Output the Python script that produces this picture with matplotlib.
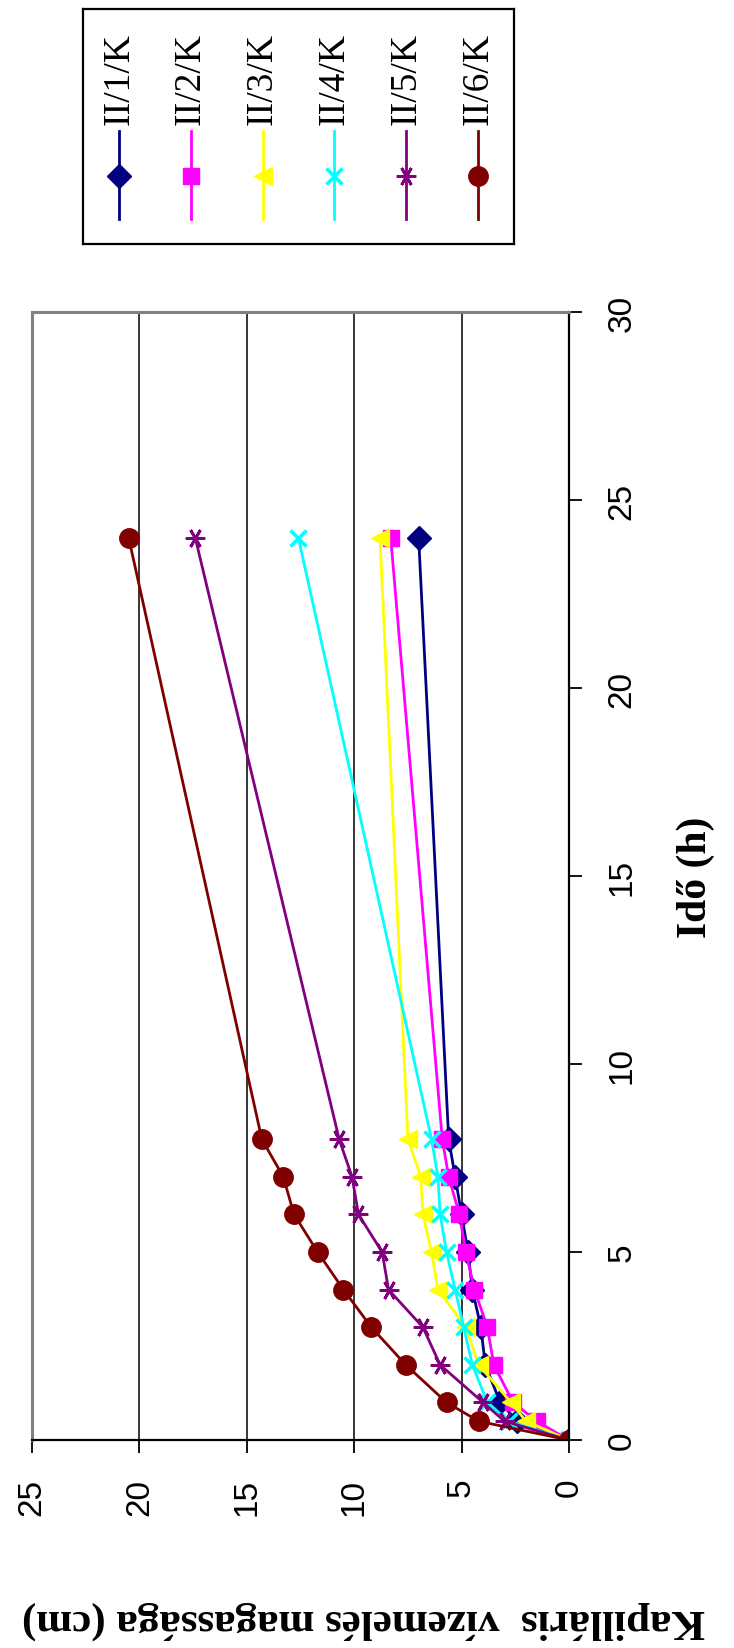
import numpy as np
import matplotlib.pyplot as plt

# capillary rise measurements, time in hours
hours = [0, 0.5, 1, 2, 3, 4, 5, 6, 7, 8, 24]

labels = ["II/1/K", "II/2/K", "II/3/K", "II/4/K", "II/5/K", "II/6/K"]
rise_1 = [0, 2.4, 3.2, 3.9, 4.1, 4.5, 4.7, 5.0, 5.3, 5.6, 7.0]
rise_2 = [0, 1.5, 2.6, 3.5, 3.8, 4.4, 4.8, 5.1, 5.6, 5.9, 8.3]
rise_3 = [0, 2.0, 2.7, 4.2, 4.8, 6.1, 6.4, 6.8, 6.9, 7.5, 8.8]
rise_4 = [0, 2.8, 3.8, 4.5, 4.9, 5.3, 5.7, 6.0, 6.1, 6.4, 12.6]
rise_5 = [0, 3.0, 4.0, 6.0, 6.8, 8.4, 8.7, 9.8, 10.1, 10.7, 17.4]
rise_6 = [0, 4.2, 5.7, 7.6, 9.2, 10.5, 11.7, 12.8, 13.3, 14.3, 20.5]
rises = [rise_1, rise_2, rise_3, rise_4, rise_5, rise_6]

colors = ["#000080", "#FF00FF", "#FFFF00", "#00FFFF", "#800080", "#800000"]
markers = ["D", "s", "<", "x", (6, 2, 90), "o"]
msizes = [12, 11, 13, 12, 14, 14]
mews = [1, 1, 1, 2.5, 2, 1]

serif = ["Liberation Serif", "DejaVu Serif"]
sans = ["Liberation Sans", "DejaVu Sans"]

fig = plt.figure(figsize=(7.34, 16.49), dpi=100)

# chart is turned on its side: height runs right-to-left, time runs upward
ax = fig.add_axes([0.0436, 0.1261, 0.7316, 0.684])
for vals, c, m, ms, mew in zip(rises, colors, markers, msizes, mews):
    ax.plot(vals, hours, color=c, lw=2, marker=m, markersize=ms,
            markerfacecolor=c, markeredgecolor=c, markeredgewidth=mew)

ax.set_xlim(25, 0)
ax.set_ylim(0, 30)
ax.set_xticks(np.arange(0, 26, 5))
ax.set_yticks(np.arange(0, 31, 5))
ax.yaxis.tick_right()
ax.yaxis.set_label_position("right")
ax.tick_params(axis="both", direction="out", length=9, width=1.3, pad=18,
               labelsize=24, labelrotation=90)
for lab in ax.get_xticklabels() + ax.get_yticklabels():
    lab.set_family(sans)
for lab in ax.get_yticklabels():
    lab.set_va("center")

ax.set_axisbelow(True)
ax.grid(axis="x", color="black", lw=1.1)
ax.grid(axis="y", visible=False)
for side in ["top", "left"]:
    ax.spines[side].set_color("#808080")
    ax.spines[side].set_linewidth(2.2)
for side in ["bottom", "right"]:
    ax.spines[side].set_color("black")
    ax.spines[side].set_linewidth(1.6)

ax.set_ylabel("Idő (h)", family=serif, fontweight="bold", fontsize=30,
              rotation=90, labelpad=28)
fig.text(0.495, 0.0176, "Kapilláris  vízemelés magassága (cm)", family=serif,
         fontweight="bold", fontsize=31, rotation=180, ha="center", va="center")

# legend box, entries laid out side by side with upright-rotated text
lax = fig.add_axes([0.1131, 0.8514, 0.5872, 0.1425])
lax.set_xlim(0, 6)
lax.set_ylim(0, 1)
lax.set_xticks([])
lax.set_yticks([])
for s in lax.spines.values():
    s.set_color("black")
    s.set_linewidth(1.6)
for i, (lab, c, m, ms, mew) in enumerate(zip(labels, colors, markers, msizes, mews)):
    x = i + 0.5
    lax.plot([x, x], [0.106, 0.481], color=c, lw=2)
    lax.plot(x, 0.289, marker=m, markersize=ms, color=c,
             markeredgecolor=c, markeredgewidth=mew)
    lax.text(x, 0.51, lab, family=serif, fontsize=27, rotation=90,
             ha="center", va="bottom")

fig.savefig("out.png", dpi=100)
